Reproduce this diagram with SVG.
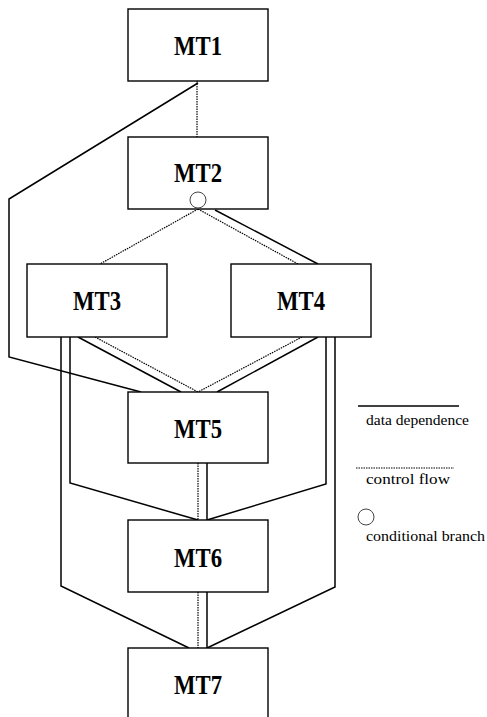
<svg xmlns="http://www.w3.org/2000/svg" width="487" height="717" viewBox="0 0 487 717">
  <style>
    .box { fill: #fff; stroke: #000; stroke-width: 1.4; }
    .lbl { font-family: "Liberation Serif", "Times New Roman", serif; font-weight: bold; font-size: 27px; text-anchor: middle; fill: #000; }
    .data { fill: none; stroke: #000; stroke-width: 1.5; }
    .ctrl { fill: none; stroke: #000; stroke-width: 1.2; stroke-dasharray: 1.5 1; }
    .branch { fill: #fff; stroke: #444; stroke-width: 1; }
    .legend { font-family: "Liberation Serif", "Times New Roman", serif; font-size: 15px; fill: #000; }
  </style>
  <rect width="487" height="717" fill="#fff"/>

  <g id="connectors">
    <!-- control flow -->
    <line class="ctrl" x1="197" y1="81" x2="197" y2="137"/>
    <line class="ctrl" x1="198" y1="209" x2="100" y2="264"/>
    <line class="ctrl" x1="198" y1="209" x2="298" y2="264"/>
    <line class="ctrl" x1="95" y1="337" x2="198" y2="392"/>
    <line class="ctrl" x1="302" y1="337" x2="198" y2="392"/>
    <line class="ctrl" x1="198" y1="463" x2="198" y2="520"/>
    <line class="ctrl" x1="198" y1="592" x2="198" y2="648"/>
    <!-- data dependence -->
    <polyline class="data" points="198,83 9,199 9,357 141,392"/>
    <line class="data" x1="215" y1="210" x2="318" y2="264"/>
    <line class="data" x1="78" y1="337" x2="181" y2="392"/>
    <line class="data" x1="318" y1="337" x2="217" y2="392"/>
    <line class="data" x1="207" y1="463" x2="207" y2="520"/>
    <line class="data" x1="207" y1="592" x2="207" y2="648"/>
    <polyline class="data" points="70,337 70,483 198,520"/>
    <polyline class="data" points="326,337 326,484 207,520"/>
    <polyline class="data" points="61,337 61,586 189,648"/>
    <polyline class="data" points="335,337 335,587 207,648"/>
  </g>

  <g id="MT1">
    <rect class="box" x="128" y="9" width="140" height="72"/>
    <text class="lbl" x="198" y="55" textLength="48" lengthAdjust="spacingAndGlyphs">MT1</text>
  </g>
  <g id="MT2">
    <rect class="box" x="128" y="137" width="140" height="72"/>
    <text class="lbl" x="198" y="182" textLength="48" lengthAdjust="spacingAndGlyphs">MT2</text>
    <circle class="branch" cx="198" cy="200" r="8"/>
  </g>
  <g id="MT3">
    <rect class="box" x="27" y="264" width="140" height="73"/>
    <text class="lbl" x="97" y="310" textLength="48" lengthAdjust="spacingAndGlyphs">MT3</text>
  </g>
  <g id="MT4">
    <rect class="box" x="231" y="264" width="140" height="73"/>
    <text class="lbl" x="301" y="310" textLength="48" lengthAdjust="spacingAndGlyphs">MT4</text>
  </g>
  <g id="MT5">
    <rect class="box" x="128" y="392" width="140" height="71"/>
    <text class="lbl" x="198" y="438" textLength="48" lengthAdjust="spacingAndGlyphs">MT5</text>
  </g>
  <g id="MT6">
    <rect class="box" x="128" y="520" width="140" height="72"/>
    <text class="lbl" x="198" y="567" textLength="48" lengthAdjust="spacingAndGlyphs">MT6</text>
  </g>
  <g id="MT7">
    <rect class="box" x="128" y="648" width="140" height="74"/>
    <text class="lbl" x="198" y="694" textLength="48" lengthAdjust="spacingAndGlyphs">MT7</text>
  </g>

  <g id="legend">
    <line x1="358" y1="406" x2="459" y2="406" stroke="#000" stroke-width="1.5"/>
    <text class="legend" x="366" y="425" textLength="103" lengthAdjust="spacingAndGlyphs">data dependence</text>
    <line class="ctrl" x1="356" y1="468" x2="454" y2="468"/>
    <text class="legend" x="366" y="484" textLength="84" lengthAdjust="spacingAndGlyphs">control flow</text>
    <circle class="branch" cx="366" cy="517" r="8"/>
    <text class="legend" x="366" y="541" textLength="119" lengthAdjust="spacingAndGlyphs">conditional branch</text>
  </g>
</svg>
